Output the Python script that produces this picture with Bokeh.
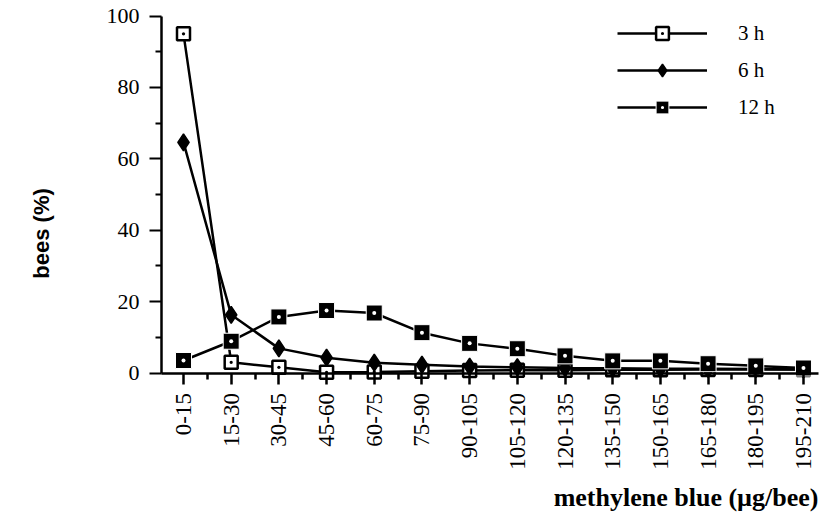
import math
from bokeh.plotting import figure
from bokeh.models import (Range1d, FixedTicker, Legend, LegendItem, Label)
from bokeh.embed import file_html
from bokeh.resources import INLINE

categories = ["0-15", "15-30", "30-45", "45-60", "60-75", "75-90", "90-105",
              "105-120", "120-135", "135-150", "150-165", "165-180",
              "180-195", "195-210"]
h3 = [95.0, 3.0, 1.6, 0.2, 0.3, 0.5, 0.7, 0.8, 0.8, 0.9, 0.9, 1.0, 1.0, 1.0]
h6 = [64.6, 16.3, 6.9, 4.3, 2.9, 2.3, 1.8, 1.6, 1.4, 1.3, 1.2, 1.2, 1.1, 1.0]
h12 = [3.5, 8.9, 15.7, 17.5, 16.8, 11.3, 8.3, 6.8, 4.8, 3.4, 3.4, 2.6, 2.0, 1.4]
series_names = ["3 h", "6 h", "12 h"]
y_ticks = [0, 20, 40, 60, 80, 100]
y_minor = [10, 30, 50, 70, 90]
x_title = "methylene blue (µg/bee)"
y_title = "bees (%)"

xs = list(range(len(categories)))

W, H = 826, 513
PX_X = 47.69          # px per category
PX_Y = 3.57           # px per percent
X_ORIGIN, Y_ORIGIN = 183.0, 372.5   # pixel position of first category / of 0 %
XR0 = -X_ORIGIN / PX_X
XR1 = XR0 + W / PX_X
YR1 = Y_ORIGIN / PX_Y
YR0 = -(H - Y_ORIGIN) / PX_Y
AX_LEFT = (161 - X_ORIGIN) / PX_X
AX_RIGHT = (818 - X_ORIGIN) / PX_X

p = figure(width=W, height=H, output_backend="svg", toolbar_location=None,
           x_range=Range1d(XR0, XR1), y_range=Range1d(YR0, YR1),
           min_border_left=0, min_border_right=0, min_border_top=0,
           min_border_bottom=0)
p.grid.visible = False
p.outline_line_color = None
p.background_fill_color = "white"
p.border_fill_color = "white"

SERIF = "Liberation Serif"

# axes
xa = p.xaxis[0]
xa.ticker = FixedTicker(ticks=xs, minor_ticks=[i + 0.5 for i in range(len(categories))])
xa.major_label_overrides = {i: c for i, c in enumerate(categories)}
xa.major_label_orientation = math.pi / 2
xa.fixed_location = 0
xa.bounds = (AX_LEFT, AX_RIGHT)
xa.axis_line_width = 2.5
xa.major_tick_line_width = 2.5
xa.minor_tick_line_width = 2.5
xa.major_tick_out = 11
xa.major_tick_in = 0
xa.minor_tick_out = 6
xa.minor_tick_in = 0
xa.major_label_standoff = 9
xa.major_label_text_font = SERIF
xa.major_label_text_font_size = "23px"
xa.major_label_text_color = "black"

ya = p.yaxis[0]
ya.ticker = FixedTicker(ticks=y_ticks, minor_ticks=y_minor)
ya.fixed_location = AX_LEFT
ya.bounds = (0, 100)
ya.axis_line_width = 2.5
ya.major_tick_line_width = 2
ya.minor_tick_line_width = 2
ya.major_tick_out = 12
ya.major_tick_in = 0
ya.minor_tick_out = 6
ya.minor_tick_in = 0
ya.major_label_standoff = 10
ya.major_label_text_font = SERIF
ya.major_label_text_font_size = "22px"
ya.major_label_text_color = "black"

# series
l3 = p.line(xs, h3, line_color="black", line_width=2.5)
m3 = p.scatter(xs, h3, marker="square_dot", size=13, fill_color="white",
               line_color="black", line_width=2.5)
l6 = p.line(xs, h6, line_color="black", line_width=2.5)
m6 = p.scatter(xs, h6, marker="diamond", size=17, fill_color="black",
               line_color="black", line_width=1.5)
l12 = p.line(xs, h12, line_color="black", line_width=2.5)
m12 = p.scatter(xs, h12, marker="square_dot", size=16, fill_color="black",
                line_color="white", line_width=1)

legend = Legend(items=[
    LegendItem(label=series_names[0], renderers=[l3, m3]),
    LegendItem(label=series_names[1], renderers=[l6, m6]),
    LegendItem(label=series_names[2], renderers=[l12, m12]),
], location=(617, 390))
legend.border_line_color = None
legend.background_fill_alpha = 0
legend.padding = 0
legend.margin = 0
legend.glyph_width = 90
legend.glyph_height = 32
legend.spacing = 5
legend.label_standoff = 31
legend.label_text_font = SERIF
legend.label_text_font_size = "21px"
legend.label_text_color = "black"
legend.label_height = 20
p.add_layout(legend, "center")

xlabel = Label(x=AX_RIGHT, y=-34.9, text=x_title, text_align="right",
               text_baseline="middle", text_font=SERIF, text_font_style="bold",
               text_font_size="26px", text_color="black")
ylabel = Label(x=(41 - X_ORIGIN) / PX_X, y=39.1, text=y_title, angle=math.pi / 2,
               text_align="center", text_baseline="middle",
               text_font="Liberation Sans", text_font_style="bold",
               text_font_size="22px", text_color="black")
p.add_layout(xlabel)
p.add_layout(ylabel)

open("out.html", "w").write(file_html(p, INLINE))
